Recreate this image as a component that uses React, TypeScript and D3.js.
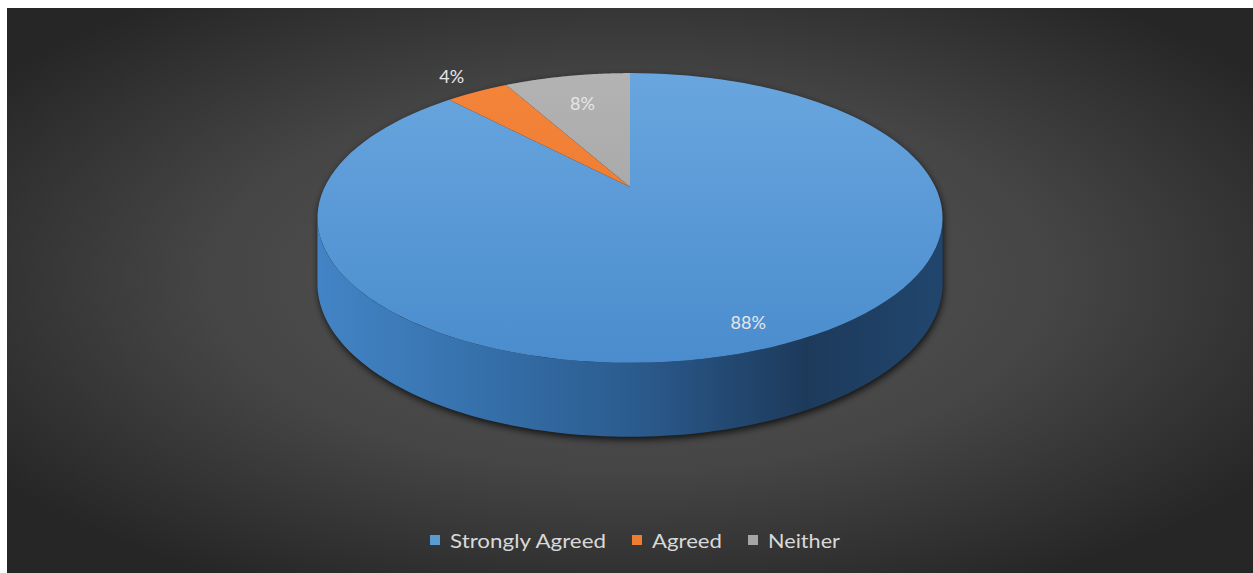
import React from "react";
import * as d3 from "d3";

const categories = ["Strongly Agreed", "Agreed", "Neither"];
const values = [88, 4, 8];
const labels = ["88%", "4%", "8%"];

const W = 1253;
const H = 573;
const CX = 630;
const CY = 187;
const D = 4.68; // perspective distance (in radii)
const A = 647; // vertical scale
const B = 1429; // horizontal scale
const D2 = 7; // perspective for depth
const HD = 444; // depth scale

const topColors: [string, string][] = [
  ["#69a6df", "#4a8ccd"],
  ["#f3843a", "#e9772c"],
  ["#b3b3b3", "#9c9c9c"],
];
const LABEL_R = [0.87, 1.2, 0.72];
const legendColors = ["#5b9bd5", "#ed7d31", "#a5a5a5"];
const LEGEND_TEXT_W = [156, 70, 72];

function proj(theta: number, r: number, depth: number): [number, number] {
  const s = Math.sin(theta) * r;
  const c = Math.cos(theta) * r;
  const x = CX + (B * s) / (D + c);
  const y = CY - (A * c) / (D + c) + (depth * HD) / (D2 + c);
  return [x, y];
}

function arcPts(a0: number, a1: number, r: number, depth: number, n = 120) {
  const pts: [number, number][] = [];
  for (let i = 0; i <= n; i++) {
    const t = a0 + ((a1 - a0) * i) / n;
    pts.push(proj(t, r, depth));
  }
  return pts;
}

export default function App() {
  const pie = d3.pie<number>().sort(null).value((d) => d);
  const arcs = pie(values);
  const line = d3.line();

  const tang = Math.acos(-1 / D); // right tangent angle (~102°)
  const frontL = tang;
  const frontR = 2 * Math.PI - tang;

  // top faces
  const topPaths = arcs.map((a) => {
    const pts: [number, number][] = [proj(0, 0, 0), ...arcPts(a.startAngle, a.endAngle, 1, 0)];
    return line(pts) + "Z";
  });

  // side walls (visible front portion)
  const sidePaths = arcs.map((a) => {
    const s = Math.max(a.startAngle, frontL);
    const e = Math.min(a.endAngle, frontR);
    if (e <= s) return null;
    const top = arcPts(s, e, 1, 0);
    const bot = arcPts(e, s, 1, 1);
    return line([...top, ...bot]) + "Z";
  });

  // shadow silhouette (bottom face + sides)
  const shadowPts = [...arcPts(frontL, frontR, 1, 1), ...arcPts(frontR, frontL + 2 * Math.PI, 1, 0)];
  const shadowPath = line(shadowPts) + "Z";

  // labels
  const labelPos = arcs.map((a, i) => {
    const m = (a.startAngle + a.endAngle) / 2;
    return proj(m, LABEL_R[i], 0);
  });

  // legend layout
  const sq = 10;
  const sqGap = 10;
  const itemGap = 26;
  const totalW =
    LEGEND_TEXT_W.reduce((s, w) => s + w + sq + sqGap, 0) + itemGap * (LEGEND_TEXT_W.length - 1);
  let lx = 635 - totalW / 2;
  const legendItems = categories.map((c, i) => {
    const x = lx;
    lx += sq + sqGap + LEGEND_TEXT_W[i] + itemGap;
    return { c, x, i };
  });
  const legendY = 540;

  return (
    <svg
      width={W}
      height={H}
      style={{ position: "absolute", left: 0, top: 0 }}
      xmlns="http://www.w3.org/2000/svg"
    >
      <defs>
        <radialGradient id="bg" cx="50%" cy="48%" r="62%">
          <stop offset="0%" stopColor="#575757" />
          <stop offset="55%" stopColor="#454545" />
          <stop offset="100%" stopColor="#262626" />
        </radialGradient>
        <linearGradient id="side0" gradientUnits="userSpaceOnUse" x1={318} y1={0} x2={943} y2={0}>
          <stop offset="0%" stopColor="#4384c6" />
          <stop offset="25%" stopColor="#3671ac" />
          <stop offset="50%" stopColor="#2b5c8f" />
          <stop offset="78%" stopColor="#1d3a5b" />
          <stop offset="100%" stopColor="#21466d" />
        </linearGradient>
        <linearGradient id="side1" gradientUnits="userSpaceOnUse" x1={318} y1={0} x2={943} y2={0}>
          <stop offset="0%" stopColor="#c0632a" />
          <stop offset="100%" stopColor="#7a3d17" />
        </linearGradient>
        <linearGradient id="side2" gradientUnits="userSpaceOnUse" x1={318} y1={0} x2={943} y2={0}>
          <stop offset="0%" stopColor="#8a8a8a" />
          <stop offset="100%" stopColor="#555555" />
        </linearGradient>
        {topColors.map((c, i) => (
          <linearGradient key={i} id={`top${i}`} gradientUnits="userSpaceOnUse" x1={0} y1={73} x2={0} y2={363}>
            <stop offset="0%" stopColor={c[0]} />
            <stop offset="100%" stopColor={c[1]} />
          </linearGradient>
        ))}
        <filter id="shadow" x="-20%" y="-20%" width="140%" height="140%">
          <feGaussianBlur stdDeviation="3.5" />
        </filter>
      </defs>
      <rect x={0} y={0} width={W} height={H} fill="#ffffff" />
      <rect x={7} y={8} width={W - 7} height={H - 8} fill="url(#bg)" />

      <path d={shadowPath} fill="#000" opacity={0.75} filter="url(#shadow)" transform="translate(1,3)" />

      {sidePaths.map((p, i) => (p ? <path key={`s${i}`} d={p} fill={`url(#side${i})`} /> : null))}
      {topPaths.map((p, i) => (
        <path key={`t${i}`} d={p} fill={`url(#top${i})`} />
      ))}

      {labelPos.map((p, i) => (
        <text
          key={`l${i}`}
          x={p[0]}
          y={p[1]}
          textAnchor="middle"
          dominantBaseline="central"
          fontFamily="Lato, 'Open Sans', sans-serif"
          fontSize={18}
          fill="#e6e6e6"
        >
          {labels[i]}
        </text>
      ))}

      {legendItems.map(({ c, x, i }) => (
        <g key={`lg${i}`}>
          <rect x={x} y={legendY - 5} width={sq} height={sq} fill={legendColors[i]} />
          <text
            x={x + sq + sqGap}
            y={legendY}
            dominantBaseline="central"
            fontFamily="Lato, 'Open Sans', sans-serif"
            fontSize={20}
            fill="#d9d9d9"
            textLength={LEGEND_TEXT_W[i]}
            lengthAdjust="spacingAndGlyphs"
          >
            {c}
          </text>
        </g>
      ))}
    </svg>
  );
}
